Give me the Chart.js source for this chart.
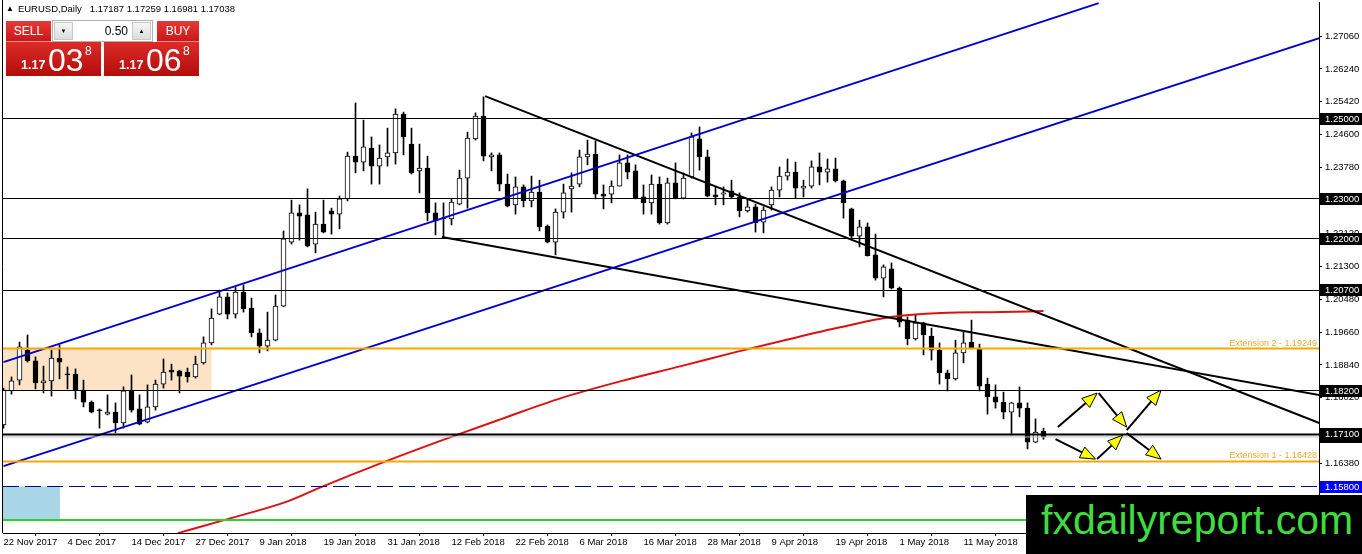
<!DOCTYPE html>
<html>
<head>
<meta charset="utf-8">
<title>EURUSD Daily</title>
<script src="https://cdn.jsdelivr.net/npm/chart.js@4.4.1/dist/chart.umd.min.js"></script>
<style>
  body { margin: 0; background: #fff; }
  #wrap { position: relative; width: 1362px; height: 554px; overflow: hidden; font-family: "Liberation Sans", Arial, sans-serif; }
  #chart { position: absolute; left: 0; top: 0; }
  #hdr { position: absolute; left: 6px; top: 3px; font-size: 9.5px; line-height: 12px; color: #000; white-space: pre; }
  #hdr .tri { font-size: 8px; vertical-align: 1px; margin-right: 4px; }
  .btn { position: absolute; top: 21px; height: 21px; line-height: 21px; text-align: center; color: #fff; font-size: 12px;
         background: linear-gradient(#e63a35, #c81616); box-shadow: inset 0 -1px 0 #f09090; }
  #sell { left: 6px; width: 45px; }
  #buy { left: 157px; width: 42px; }
  #spin { position: absolute; left: 52px; top: 20px; width: 99px; height: 20px; border: 1px solid #b0b0b0; background: #fff; }
  .sb { position: absolute; top: 1px; width: 19px; height: 18px; background: linear-gradient(#f6f6f6, #dcdcdc);
        border: 1px solid #c8c8c8; box-sizing: border-box; font-size: 6px; line-height: 16px; text-align: center; color: #000; }
  #dn { left: 1px; }
  #up { left: 79px; }
  #lot { position: absolute; left: 22px; top: 0; width: 53px; height: 20px; line-height: 20px; text-align: right; font-size: 12px; color: #000; }
  .px { position: absolute; top: 42px; width: 95px; height: 34px; background: linear-gradient(#dc2c28, #b30c0c); color: #fff; }
  #sellpx { left: 6px; }
  #buypx { left: 104px; }
  .px span { position: absolute; white-space: pre; }
  .px .l { left: 15px; top: 17px; font-size: 12.5px; line-height: 12.5px; font-weight: bold; }
  .px .b { left: 42px; top: 2px; font-size: 32px; line-height: 32px; }
  .px .s { left: 79px; top: 3px; font-size: 12px; line-height: 12px; }
  #wm { position: absolute; left: 1026px; top: 495px; width: 336px; height: 59px; background: #000; }
  #wm span { position: absolute; left: 15px; top: 5px; font-size: 41px; line-height: 41px; color: #3fdc3f; white-space: pre; }
</style>
</head>
<body>
<div id="wrap">
  <canvas id="chart" width="1362" height="554"></canvas>
  <div id="hdr"><span class="tri">▲</span>EURUSD,Daily   1.17187 1.17259 1.16981 1.17038</div>
  <div class="btn" id="sell">SELL</div>
  <div id="spin"><div class="sb" id="dn">▼</div><div id="lot">0.50</div><div class="sb" id="up">▲</div></div>
  <div class="btn" id="buy">BUY</div>
  <div class="px" id="sellpx"><span class="l">1.17</span><span class="b">03</span><span class="s">8</span></div>
  <div class="px" id="buypx"><span class="l">1.17</span><span class="b">06</span><span class="s">8</span></div>
  <div id="wm"><span>fxdailyreport.com</span></div>
</div>
<script>
// daily candles, 22 Nov 2017 .. last bar (index = bar number)
const opens = [
  1.1734, 1.1819, 1.1846, 1.1921, 1.1894, 1.1839, 1.1844, 1.1901, 1.1861, 1.1861,
  1.1821, 1.1791, 1.1771, 1.1761, 1.1766, 1.1739, 1.1819, 1.1774, 1.1741, 1.1779,
  1.1836, 1.1871, 1.1869, 1.1866, 1.1854, 1.1889, 1.1939, 1.2011, 1.2054, 1.2011,
  1.2066, 1.2026, 1.1964, 1.1931, 1.1946, 1.2031, 1.2191, 1.2264, 1.2259, 1.2186,
  1.2236, 1.2269, 1.2261, 1.2299, 1.2406, 1.2391, 1.2426, 1.2381, 1.2404, 1.2414,
  1.2511, 1.2436, 1.2369, 1.2376, 1.2264, 1.2251, 1.2249, 1.2286, 1.2351, 1.2449,
  1.2506, 1.2404, 1.2409, 1.2336, 1.2284, 1.2329, 1.2294, 1.2316, 1.2231, 1.2191,
  1.2266, 1.2324, 1.2336, 1.2404, 1.2411, 1.2311, 1.2311, 1.2331, 1.2389, 1.2369,
  1.2304, 1.2289, 1.2336, 1.2239, 1.2339, 1.2301, 1.2354, 1.2449, 1.2404, 1.2309,
  1.2311, 1.2319, 1.2304, 1.2269, 1.2279, 1.2241, 1.2284, 1.2321, 1.2356, 1.2366,
  1.2326, 1.2331, 1.2379, 1.2366, 1.2374, 1.2344, 1.2274, 1.2206, 1.2229, 1.2159,
  1.2101, 1.2124, 1.2076, 1.1996, 1.1949, 1.1989, 1.1956, 1.1921, 1.1864, 1.1849,
  1.1914, 1.1941, 1.1926, 1.1836, 1.1804, 1.1791, 1.1766, 1.1789, 1.1776, 1.1691,
  1.17187
];
const highs = [
  1.1826, 1.1854, 1.1941, 1.1959, 1.1904, 1.1881, 1.1921, 1.1934, 1.1879, 1.1874,
  1.1846, 1.1794, 1.1774, 1.1809, 1.1789, 1.1829, 1.1859, 1.1809, 1.1834, 1.1846,
  1.1899, 1.1886, 1.1871, 1.1876, 1.1906, 1.1954, 1.2024, 1.2071, 1.2064, 1.2079,
  1.2084, 1.2051, 1.1974, 1.2016, 1.2059, 1.2219, 1.2296, 1.2284, 1.2324, 1.2266,
  1.2296, 1.2276, 1.2306, 1.2416, 1.2539, 1.2496, 1.2454, 1.2434, 1.2476, 1.2524,
  1.2516, 1.2476, 1.2436, 1.2406, 1.2289, 1.2289, 1.2299, 1.2371, 1.2466, 1.2514,
  1.2554, 1.2414, 1.2414, 1.2361, 1.2354, 1.2334, 1.2356, 1.2346, 1.2234, 1.2274,
  1.2336, 1.2364, 1.2421, 1.2446, 1.2444, 1.2334, 1.2344, 1.2409, 1.2409, 1.2384,
  1.2334, 1.2359, 1.2354, 1.2351, 1.2389, 1.2364, 1.2464, 1.2479, 1.2421, 1.2329,
  1.2329, 1.2346, 1.2314, 1.2296, 1.2286, 1.2279, 1.2329, 1.2379, 1.2399, 1.2391,
  1.2346, 1.2394, 1.2414, 1.2399, 1.2401, 1.2346, 1.2276, 1.2246, 1.2239, 1.2211,
  1.2134, 1.2139, 1.2079, 1.2004, 1.2009, 1.1991, 1.1976, 1.1939, 1.1871, 1.1946,
  1.1966, 1.1996, 1.1936, 1.1851, 1.1834, 1.1816, 1.1791, 1.1829, 1.1789, 1.1749,
  1.17259
];
const lows = [
  1.1726, 1.1811, 1.1834, 1.1891, 1.1824, 1.1814, 1.1806, 1.1849, 1.1824, 1.1799,
  1.1779, 1.1764, 1.1726, 1.1759, 1.1714, 1.1726, 1.1766, 1.1734, 1.1739, 1.1771,
  1.1826, 1.1846, 1.1814, 1.1841, 1.1851, 1.1886, 1.1934, 1.2009, 1.1999, 1.2001,
  1.2016, 1.1954, 1.1914, 1.1919, 1.1944, 1.2029, 1.2186, 1.2196, 1.2179, 1.2164,
  1.2214, 1.2211, 1.2224, 1.2294, 1.2364, 1.2369, 1.2336, 1.2336, 1.2381, 1.2386,
  1.2409, 1.2361, 1.2314, 1.2244, 1.2209, 1.2204, 1.2234, 1.2284, 1.2276, 1.2446,
  1.2394, 1.2369, 1.2319, 1.2279, 1.2261, 1.2279, 1.2279, 1.2219, 1.2189, 1.2159,
  1.2251, 1.2266, 1.2329, 1.2384, 1.2299, 1.2274, 1.2289, 1.2331, 1.2349, 1.2299,
  1.2261, 1.2261, 1.2236, 1.2236, 1.2299, 1.2299, 1.2351, 1.2371, 1.2304, 1.2284,
  1.2284, 1.2301, 1.2254, 1.2266, 1.2216, 1.2214, 1.2271, 1.2304, 1.2346, 1.2301,
  1.2304, 1.2326, 1.2334, 1.2341, 1.2341, 1.2251, 1.2201, 1.2179, 1.2156, 1.2096,
  1.2054, 1.2074, 1.1979, 1.1934, 1.1946, 1.1909, 1.1896, 1.1836, 1.1819, 1.1846,
  1.1889, 1.1924, 1.1819, 1.1761, 1.1776, 1.1749, 1.1709, 1.1754, 1.1674, 1.1689,
  1.16981
];
const closes = [
  1.1821, 1.1844, 1.1929, 1.1894, 1.1839, 1.1844, 1.1901, 1.1891, 1.1859, 1.1821,
  1.1791, 1.1766, 1.1769, 1.1766, 1.1739, 1.1819, 1.1771, 1.1736, 1.1779, 1.1836,
  1.1866, 1.1866, 1.1856, 1.1854, 1.1886, 1.1939, 1.2001, 1.2054, 1.2011, 1.2066,
  1.2024, 1.1964, 1.1931, 1.1946, 1.2031, 1.2199, 1.2264, 1.2256, 1.2181, 1.2236,
  1.2216, 1.2261, 1.2299, 1.2406, 1.2391, 1.2429, 1.2381, 1.2401, 1.2414, 1.2511,
  1.2454, 1.2364, 1.2376, 1.2264, 1.2244, 1.2249, 1.2291, 1.2351, 1.2451, 1.2506,
  1.2406, 1.2409, 1.2336, 1.2281, 1.2329, 1.2294, 1.2316, 1.2229, 1.2191, 1.2266,
  1.2314, 1.2331, 1.2404, 1.2411, 1.2311, 1.2306, 1.2331, 1.2389, 1.2366, 1.2301,
  1.2289, 1.2336, 1.2239, 1.2339, 1.2301, 1.2351, 1.2454, 1.2404, 1.2306, 1.2304,
  1.2314, 1.2304, 1.2269, 1.2279, 1.2239, 1.2271, 1.2321, 1.2356, 1.2366, 1.2326,
  1.2331, 1.2379, 1.2366, 1.2374, 1.2344, 1.2289, 1.2206, 1.2229, 1.2157, 1.2101,
  1.2129, 1.2076, 1.1991, 1.1949, 1.1989, 1.1959, 1.1921, 1.1864, 1.1849, 1.1914,
  1.1939, 1.1926, 1.1831, 1.1804, 1.1791, 1.1766, 1.1789, 1.1776, 1.1691, 1.1716,
  1.17038
];

// moving average (bar index, price)
const maIdx  = [21.8, 28.0, 35.6, 39.7, 47.2, 55.9, 62.2, 69.7, 77.2, 84.7, 91.5, 97.2, 104.7, 110.9, 117.2, 124.7, 130];
const maVals = [1.14635, 1.14985, 1.15435, 1.15785, 1.16385, 1.17035, 1.17485, 1.1801, 1.18435, 1.1881, 1.1916, 1.19435, 1.19785, 1.20035, 1.20135, 1.2016, 1.20185];

// bottom axis
const dateTicks  = [0, 8, 16, 24, 32, 40, 48, 56, 64, 72, 80, 88, 96, 104, 112, 120];
const dateLabels = ['22 Nov 2017', '4 Dec 2017', '14 Dec 2017', '27 Dec 2017', '9 Jan 2018', '19 Jan 2018',
                    '31 Jan 2018', '12 Feb 2018', '22 Feb 2018', '6 Mar 2018', '16 Mar 2018', '28 Mar 2018',
                    '9 Apr 2018', '19 Apr 2018', '1 May 2018', '11 May 2018'];
// right axis
const priceTicks = [1.2706, 1.2624, 1.2542, 1.2460, 1.2378, 1.2296, 1.2212, 1.2130, 1.2048, 1.1966, 1.1884, 1.1802, 1.1638];

// drawn objects
const levels      = [1.25, 1.23, 1.22, 1.207, 1.182];
const mainLevel   = 1.171;
const bidPrice    = 1.17038;
const extLevels   = [1.19249, 1.16428];
const extLabels   = ['Extension 2 - 1.19249', 'Extension 1 - 1.16428'];
const dashLevel   = 1.158;
const greenLevel  = 1.1496;
const upperChannel = [[0, 1.1891], [136.9, 1.27885]];
const lowerChannel = [[0, 1.1631], [164.5, 1.2701]];
const fromHigh     = [[60.2, 1.2556], [164.5, 1.17385]];
const fromLow      = [[54.8, 1.22035], [164.5, 1.18085]];
const peachZone    = [-0.1, 26.0, 1.1820, 1.19249];
const blueZone     = [-0.1, 7.05, 1.1496, 1.1580];
const arrows = [
  [131.8, 1.17285, 136.7, 1.18135],
  [136.9, 1.18135, 140.4, 1.17285],
  [140.4, 1.1721, 144.7, 1.1821],
  [131.5, 1.16985, 136.5, 1.16485],
  [136.7, 1.16485, 139.9, 1.17085],
  [140.4, 1.17135, 144.7, 1.16485]
];
const blackBoxes = [1.25, 1.23, 1.22, 1.207, 1.182, 1.171];

const X_MIN = -0.0625, X_MAX = 164.4375;
const Y_MIN = 1.146375, Y_MAX = 1.279125;
const FONT = { family: 'Liberation Sans', size: 9.5 };

const bars = opens.map((o, i) => i);

function seg(points, color, width, dash) {
    return {
        type: 'line',
        data: points.map(p => ({ x: p[0], y: p[1] })),
        borderColor: color,
        borderWidth: width,
        borderDash: dash || [],
        pointRadius: 0,
        fill: false,
        order: 1
    };
}
function hline(v, color, width, dash) {
    return seg([[X_MIN, v], [X_MAX, v]], color, width, dash);
}

const datasets = [];
// candles
datasets.push({
    type: 'bar',
    data: bars.map(i => ({ x: i, y: [lows[i], highs[i]] })),
    backgroundColor: '#000',
    barThickness: 1,
    grouped: false,
    order: 20
});
datasets.push({
    type: 'bar',
    data: bars.map(i => ({ x: i, y: [Math.min(opens[i], closes[i]), Math.max(opens[i], closes[i])] })),
    backgroundColor: bars.map(i => closes[i] >= opens[i] ? '#ffffff' : '#000000'),
    borderColor: '#000',
    borderWidth: 1,
    borderSkipped: false,
    minBarLength: 1,
    barThickness: 5,
    grouped: false,
    order: 19
});
// horizontal levels
levels.forEach(v => datasets.push(hline(v, '#000', 1)));
datasets.push(hline(bidPrice, '#c0c0c0', 1));
datasets.push(hline(mainLevel, '#000', 2));
extLevels.forEach(v => datasets.push(hline(v, '#ffa500', 2)));
datasets.push(hline(dashLevel, '#00008b', 1, [16, 6]));
datasets.push(hline(greenLevel, '#32cd32', 2));
// trend lines
datasets.push(seg(upperChannel, '#0000cd', 2));
datasets.push(seg(lowerChannel, '#0000cd', 2));
datasets.push(seg(fromHigh, '#000', 2));
datasets.push(seg(fromLow, '#000', 2));
// moving average
datasets.push({
    type: 'line',
    data: maIdx.map((x, i) => ({ x: x, y: maVals[i] })),
    borderColor: '#dd1111',
    borderWidth: 2,
    pointRadius: 0,
    cubicInterpolationMode: 'monotone',
    fill: false,
    order: 2
});

// shaded zones behind the candles
const zonesPlugin = {
    id: 'zones',
    beforeDatasetsDraw(chart) {
        const { ctx, chartArea, scales } = chart;
        ctx.save();
        ctx.beginPath();
        ctx.rect(chartArea.left, chartArea.top, chartArea.width, chartArea.height);
        ctx.clip();
        [[peachZone, '#fde3c6'], [blueZone, '#a9d6e6']].forEach(([z, color]) => {
            const x0 = scales.x.getPixelForValue(z[0]);
            const x1 = scales.x.getPixelForValue(z[1]);
            const y0 = scales.y.getPixelForValue(z[3]);
            const y1 = scales.y.getPixelForValue(z[2]);
            ctx.fillStyle = color;
            ctx.fillRect(x0, y0, x1 - x0, y1 - y0);
        });
        ctx.restore();
    }
};

function drawArrow(ctx, x0, y0, x1, y1) {
    const a = Math.atan2(y1 - y0, x1 - x0);
    const len = 15, half = 6;
    const bx = x1 - len * Math.cos(a), by = y1 - len * Math.sin(a);
    ctx.strokeStyle = '#000';
    ctx.lineWidth = 2;
    ctx.beginPath();
    ctx.moveTo(x0, y0);
    ctx.lineTo(bx, by);
    ctx.stroke();
    ctx.beginPath();
    ctx.moveTo(x1, y1);
    ctx.lineTo(bx + half * Math.sin(a), by - half * Math.cos(a));
    ctx.lineTo(bx - half * Math.sin(a), by + half * Math.cos(a));
    ctx.closePath();
    ctx.fillStyle = '#ffff00';
    ctx.fill();
    ctx.lineWidth = 1;
    ctx.stroke();
}

// arrows, extension labels, left frame
const overlayPlugin = {
    id: 'overlay',
    afterDatasetsDraw(chart) {
        const { ctx, chartArea, scales } = chart;
        ctx.save();
        arrows.forEach(a => {
            drawArrow(ctx,
                scales.x.getPixelForValue(a[0]), scales.y.getPixelForValue(a[1]),
                scales.x.getPixelForValue(a[2]), scales.y.getPixelForValue(a[3]));
        });
        ctx.font = '9px "Liberation Sans"';
        ctx.fillStyle = '#f0a830';
        ctx.textAlign = 'right';
        ctx.textBaseline = 'alphabetic';
        extLevels.forEach((v, i) => {
            ctx.fillText(extLabels[i], chartArea.right - 2, scales.y.getPixelForValue(v) - 3);
        });
        ctx.strokeStyle = '#000';
        ctx.lineWidth = 1;
        ctx.beginPath();
        ctx.moveTo(chartArea.left - 0.5, 0);
        ctx.lineTo(chartArea.left - 0.5, chartArea.bottom);
        ctx.stroke();
        ctx.restore();
    }
};

// price boxes on the right axis
const boxesPlugin = {
    id: 'boxes',
    afterDraw(chart) {
        const { ctx, chartArea, scales } = chart;
        const box = (v, color) => {
            const y = Math.round(scales.y.getPixelForValue(v));
            ctx.fillStyle = color;
            ctx.fillRect(chartArea.right + 1, y - 6, 42, 12);
            ctx.fillStyle = '#fff';
            ctx.fillText(v.toFixed(5), chartArea.right + 6, y + 0.5);
        };
        ctx.save();
        ctx.font = '9.5px "Liberation Sans"';
        ctx.textAlign = 'left';
        ctx.textBaseline = 'middle';
        box(bidPrice, '#000');
        blackBoxes.forEach(v => box(v, '#000'));
        box(dashLevel, '#0000ff');
        ctx.restore();
    }
};

Chart.defaults.font.family = 'Liberation Sans';

new Chart(document.getElementById('chart'), {
    type: 'bar',
    data: { datasets: datasets },
    options: {
        responsive: false,
        animation: false,
        devicePixelRatio: 1,
        events: [],
        layout: { padding: { left: 3, top: 2, right: 0, bottom: 0 } },
        plugins: { legend: { display: false }, tooltip: { enabled: false } },
        scales: {
            x: {
                type: 'linear',
                min: X_MIN,
                max: X_MAX,
                offset: false,
                grid: { display: true, drawOnChartArea: false, drawTicks: true, tickLength: 3, color: '#000' },
                border: { display: true, color: '#000', width: 1 },
                ticks: {
                    autoSkip: false,
                    maxRotation: 0,
                    minRotation: 0,
                    align: 'start',
                    padding: 1,
                    color: '#000',
                    font: FONT,
                    callback: v => {
                        const k = dateTicks.indexOf(v);
                        return k >= 0 ? dateLabels[k] : '';
                    }
                },
                afterBuildTicks: s => { s.ticks = dateTicks.map(v => ({ value: v })); },
                afterFit: s => { s.height = 21; s.paddingLeft = 0; s.paddingRight = 0; }
            },
            y: {
                position: 'right',
                min: Y_MIN,
                max: Y_MAX,
                beginAtZero: false,
                grid: { display: true, drawOnChartArea: false, drawTicks: true, tickLength: 3, color: '#000' },
                border: { display: true, color: '#000', width: 1 },
                ticks: {
                    padding: 3,
                    color: '#000',
                    font: FONT,
                    callback: v => Number(v).toFixed(5)
                },
                afterBuildTicks: s => { s.ticks = priceTicks.map(v => ({ value: v })); },
                afterFit: s => { s.width = 43; s.paddingTop = 0; s.paddingBottom = 0; }
            }
        }
    },
    plugins: [zonesPlugin, overlayPlugin, boxesPlugin]
});
</script>
</body>
</html>
